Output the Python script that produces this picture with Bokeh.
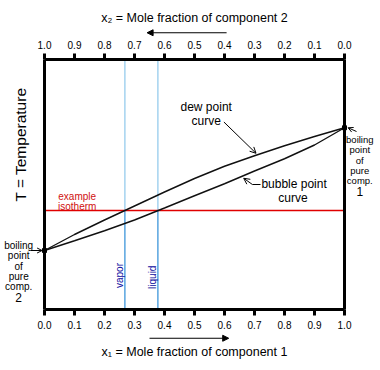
import math
from bokeh.plotting import figure
from bokeh.models import Range1d, LinearAxis, FixedTicker, Label, Arrow, NormalHead, OpenHead
from bokeh.embed import file_html
from bokeh.resources import INLINE

# ---- data ----
x1 = [0.0, 0.1, 0.2, 0.3, 0.4, 0.5, 0.6, 0.7, 0.8, 0.9, 1.0]
T_bubble = [0.236, 0.275, 0.315, 0.358, 0.406, 0.455, 0.503, 0.554, 0.603, 0.658, 0.727]
T_dew = [0.236, 0.300, 0.358, 0.414, 0.470, 0.524, 0.573, 0.615, 0.655, 0.692, 0.727]
T_isotherm = 0.396
x_vapor = 0.268
x_liquid = 0.378

x1_ticks = [0.0, 0.1, 0.2, 0.3, 0.4, 0.5, 0.6, 0.7, 0.8, 0.9, 1.0]
x1_tick_labels = ["0.0", "0.1", "0.2", "0.3", "0.4", "0.5", "0.6", "0.7", "0.8", "0.9", "1.0"]
x2_tick_labels = ["1.0", "0.9", "0.8", "0.7", "0.6", "0.5", "0.4", "0.3", "0.2", "0.1", "0.0"]

pure2_lines = ["boiling", "point", "of", "pure", "comp.", "2"]
pure1_lines = ["boiling", "point", "of", "pure", "comp.", "1"]

FONT = "Liberation Sans"

# The data box (0..1 x 0..1) occupies 300 x 250 px, 44 px from the left and 59 px from the top;
# the frame covers the whole canvas so that outside notes are not clipped.
W, H = 380, 370
BOX_L, BOX_T, BOX_W, BOX_H = 44, 59, 300, 250
p = figure(width=W, height=H, min_border=0,
           x_range=Range1d(-BOX_L / BOX_W, (W - BOX_L) / BOX_W),
           y_range=Range1d(-(H - BOX_T - BOX_H) / BOX_H, 1 + BOX_T / BOX_H),
           x_axis_type=None, y_axis_type=None,
           output_backend="svg", toolbar_location=None)
p.grid.visible = False
p.outline_line_color = None
p.background_fill_color = "white"
p.border_fill_color = "white"


def style_axis(ax, label_standoff, title_standoff):
    ax.axis_line_width = 3
    ax.axis_line_color = "black"
    ax.major_tick_line_width = 3
    ax.major_tick_out = 6
    ax.major_tick_in = 0
    ax.minor_tick_out = 0
    ax.minor_tick_in = 0
    ax.major_label_text_font = FONT
    ax.major_label_text_font_size = "10px"
    ax.major_label_text_color = "black"
    ax.major_label_standoff = label_standoff
    ax.axis_label_text_font = FONT
    ax.axis_label_text_font_size = "12.5px"
    ax.axis_label_text_font_style = "normal"
    ax.axis_label_text_color = "black"
    ax.axis_label_standoff = title_standoff


bottom = LinearAxis(ticker=FixedTicker(ticks=x1_ticks), fixed_location=0, bounds=(0, 1),
                    major_label_overrides={t: l for t, l in zip(x1_ticks, x1_tick_labels)},
                    axis_label="x\u2081 = Mole fraction of component 1")
style_axis(bottom, 5, 13)
p.add_layout(bottom, "below")

top = LinearAxis(ticker=FixedTicker(ticks=x1_ticks), fixed_location=1, bounds=(0, 1),
                 major_label_overrides={t: l for t, l in zip(x1_ticks, x2_tick_labels)},
                 axis_label="x\u2082 = Mole fraction of component 2")
style_axis(top, 5, 13)
p.add_layout(top, "above")

for loc, side in ((0, "left"), (1, "right")):
    ax = LinearAxis(ticker=FixedTicker(ticks=[]), fixed_location=loc, bounds=(0, 1))
    ax.axis_line_width = 3
    ax.axis_line_color = "black"
    ax.major_tick_out = 0
    ax.minor_tick_out = 0
    ax.major_label_text_font_size = "0px"
    p.add_layout(ax, side)

# vertical composition lines
p.segment(x0=[x_vapor, x_liquid], y0=[T_isotherm, T_isotherm], x1=[x_vapor, x_liquid], y1=[1, 1],
          line_color="#8ec8ec", line_width=1.2)
p.segment(x0=[x_vapor, x_liquid], y0=[0, 0], x1=[x_vapor, x_liquid], y1=[T_isotherm, T_isotherm],
          line_color="#2e8ed8", line_width=1.2)
# isotherm
p.segment(x0=[0], y0=[T_isotherm], x1=[1], y1=[T_isotherm], line_color="#e00000", line_width=1.3)

# curves
p.line(x1, T_dew, line_color="#111111", line_width=1.4)
p.line(x1, T_bubble, line_color="#111111", line_width=1.4)
p.scatter([x1[0], x1[-1]], [T_dew[0], T_dew[-1]], marker="square", size=4, color="black")


def lab(x, y, text, size="10px", color="black", align="center", angle=0.0, baseline="middle"):
    p.add_layout(Label(x=x, y=y, text=text, text_font=FONT, text_font_size=size,
                       text_color=color, text_align=align, text_baseline=baseline, angle=angle))


# y title
lab(-0.08, 0.66, "T = Temperature", size="15.5px", angle=math.pi / 2)

# isotherm label
lab(0.109, 0.453, "example", size="10px", color="#d01010")
lab(0.109, 0.413, "isotherm", size="10px", color="#d01010")

# vapor / liquid
lab(0.251, 0.136, "vapor", size="10px", color="#0a0aa0", angle=math.pi / 2)
lab(0.361, 0.129, "liquid", size="10px", color="#0a0aa0", angle=math.pi / 2)

# curve names
lab(0.539, 0.809, "dew point", size="12px")
lab(0.539, 0.753, "curve", size="12px")
lab(0.832, 0.503, "bubble point", size="12px")
lab(0.828, 0.445, "curve", size="12px")

gap = 10.3 / 250
for i, t in enumerate(pure2_lines):
    lab(-0.086, 0.256 - i * gap, t, size="12px" if i == 5 else "10px")
for i, t in enumerate(pure1_lines):
    lab(1.051, 0.68 - i * gap, t, size="12px" if i == 5 else "9.5px")

# arrows
p.add_layout(Arrow(x_start=0.598, y_start=0.75, x_end=0.705, y_end=0.625,
                   end=OpenHead(size=6, line_width=1), line_width=1))
p.segment(x0=[0.72], y0=[0.5], x1=[0.693], y1=[0.5], line_color="black", line_width=1)
p.add_layout(Arrow(x_start=0.693, y_start=0.5, x_end=0.664, y_end=0.525,
                   end=OpenHead(size=6, line_width=1), line_width=1))
p.add_layout(Arrow(x_start=-0.045, y_start=T_dew[0], x_end=-0.008, y_end=T_dew[0],
                   end=OpenHead(size=5, line_width=1), line_width=1))
p.add_layout(Arrow(x_start=1.04, y_start=0.712, x_end=1.012, y_end=T_dew[-1],
                   end=OpenHead(size=5, line_width=1), line_width=1))
p.add_layout(Arrow(x_start=0.35, y_start=-0.115, x_end=0.614, y_end=-0.115,
                   end=NormalHead(size=6, fill_color="black", line_width=1), line_width=1))
p.add_layout(Arrow(x_start=0.607, y_start=1.107, x_end=0.342, y_end=1.107,
                   end=NormalHead(size=6, fill_color="black", line_width=1), line_width=1))

open("out.html", "w").write(file_html(p, INLINE))
